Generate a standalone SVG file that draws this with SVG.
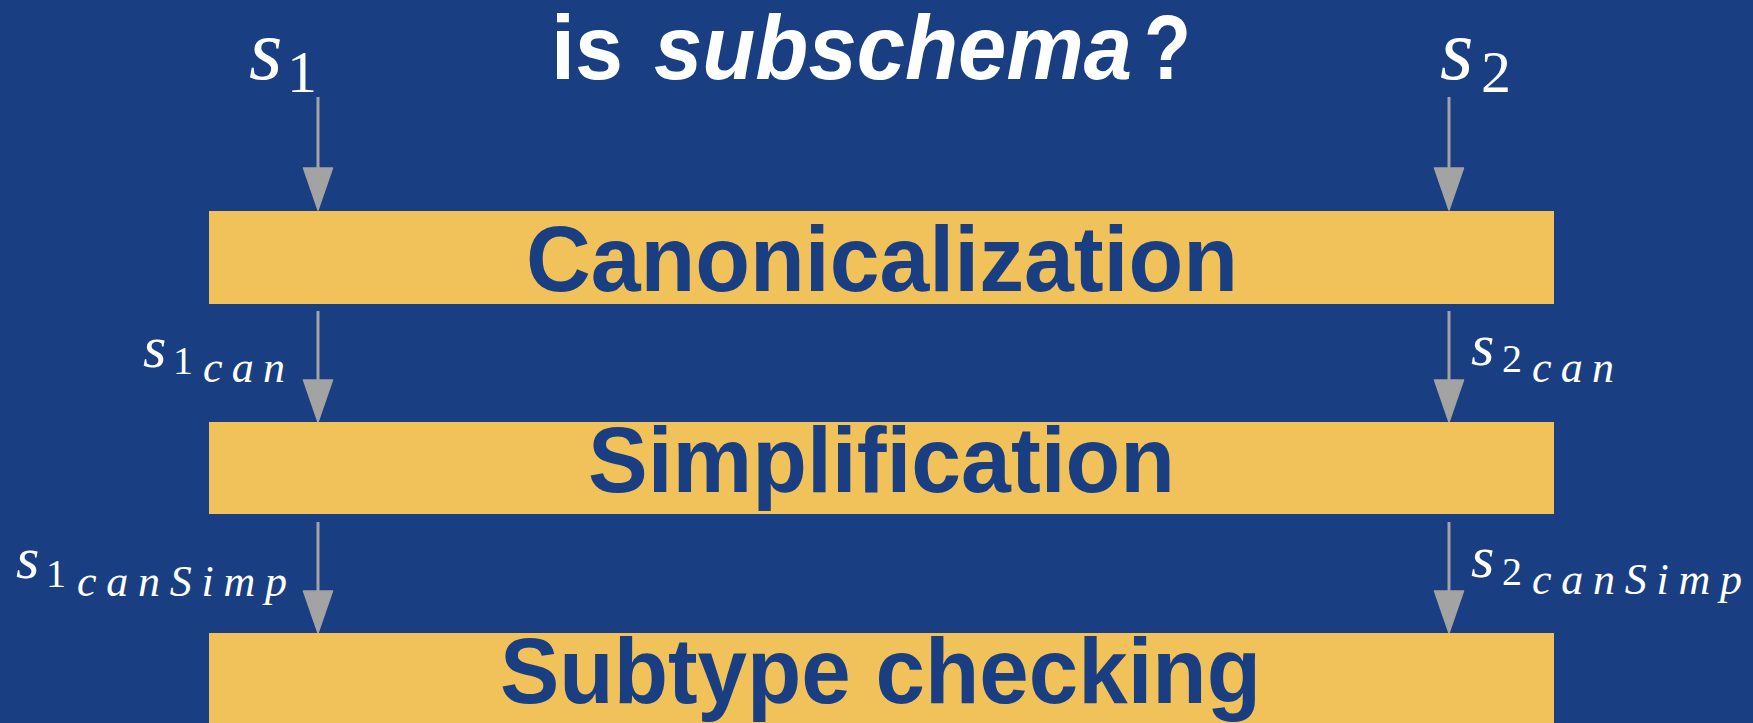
<svg xmlns="http://www.w3.org/2000/svg" width="1753" height="723" viewBox="0 0 1753 723">
<style>
.box{fill:#f1c15a}
.btxt{fill:#193f82;font-family:"Liberation Sans",Arial,sans-serif;font-weight:bold;font-size:93px}
.title{fill:#ffffff;font-family:"Liberation Sans",Arial,sans-serif;font-weight:bold;font-size:90px}
.conn{stroke:#a3a3a3;stroke-width:3;fill:none;marker-end:url(#ah)}
.mi{fill:#ffffff;font-family:"Liberation Serif","Times New Roman",serif;font-style:italic}
.mr{fill:#ffffff;font-family:"Liberation Serif","Times New Roman",serif}
</style>
<defs>
<marker id="ah" markerUnits="userSpaceOnUse" markerWidth="44" markerHeight="32" viewBox="-1 -1 44 32" refX="0" refY="14.5" orient="auto">
<path d="M0,0 L42,14.5 L0,29 Z" fill="#a3a3a3" stroke="#a3a3a3" stroke-width="1.5" stroke-linejoin="round"/>
</marker>
</defs>
<rect x="0" y="0" width="1753" height="723" fill="#193f82"/>
<g id="title">
<text class="title" x="551" y="79" textLength="72" lengthAdjust="spacingAndGlyphs">is</text>
<text class="title" x="654" y="79" textLength="478" lengthAdjust="spacingAndGlyphs" font-style="italic">subschema</text>
<text class="title" x="1144" y="79" textLength="47" lengthAdjust="spacingAndGlyphs">?</text>
</g>
<g id="connectors">
<path class="conn" d="M318,97 L318,168"/>
<path class="conn" d="M1449,97 L1449,168"/>
<path class="conn" d="M318,311 L318,380"/>
<path class="conn" d="M1449,311 L1449,380"/>
<path class="conn" d="M318,522 L318,591"/>
<path class="conn" d="M1449,522 L1449,591"/>
</g>
<g id="canonicalization">
<rect class="box" x="209" y="211" width="1345" height="93"/>
<text class="btxt" x="526" y="291" textLength="712" lengthAdjust="spacingAndGlyphs">Canonicalization</text>
</g>
<g id="simplification">
<rect class="box" x="209" y="422" width="1345" height="92"/>
<text class="btxt" x="588" y="492" textLength="587" lengthAdjust="spacingAndGlyphs">Simplification</text>
</g>
<g id="subtype-checking">
<rect class="box" x="209" y="633" width="1345" height="90"/>
<text class="btxt" x="500" y="703" textLength="761" lengthAdjust="spacingAndGlyphs">Subtype checking</text>
</g>
<g id="labels">
<text class="mi" x="249" y="79" font-size="86">s</text>
<text class="mr" x="287" y="92" font-size="60">1</text>
<text class="mi" x="1440" y="79" font-size="86">s</text>
<text class="mr" x="1481" y="92" font-size="60">2</text>
<text class="mi" x="143" y="367" font-size="60">s</text>
<text class="mr" x="173" y="374" font-size="40">1</text>
<text class="mi" x="203" y="382" font-size="44" textLength="82" lengthAdjust="spacing">can</text>
<text class="mi" x="16" y="578" font-size="60">s</text>
<text class="mr" x="46" y="587" font-size="40">1</text>
<text class="mi" x="77" y="596" font-size="44" textLength="210" lengthAdjust="spacing">canSimp</text>
<text class="mi" x="1471" y="365" font-size="60">s</text>
<text class="mr" x="1502" y="372" font-size="40">2</text>
<text class="mi" x="1532" y="382" font-size="44" textLength="82" lengthAdjust="spacing">can</text>
<text class="mi" x="1471" y="577" font-size="60">s</text>
<text class="mr" x="1502" y="585" font-size="40">2</text>
<text class="mi" x="1532" y="594" font-size="44" textLength="210" lengthAdjust="spacing">canSimp</text>
</g>
</svg>
